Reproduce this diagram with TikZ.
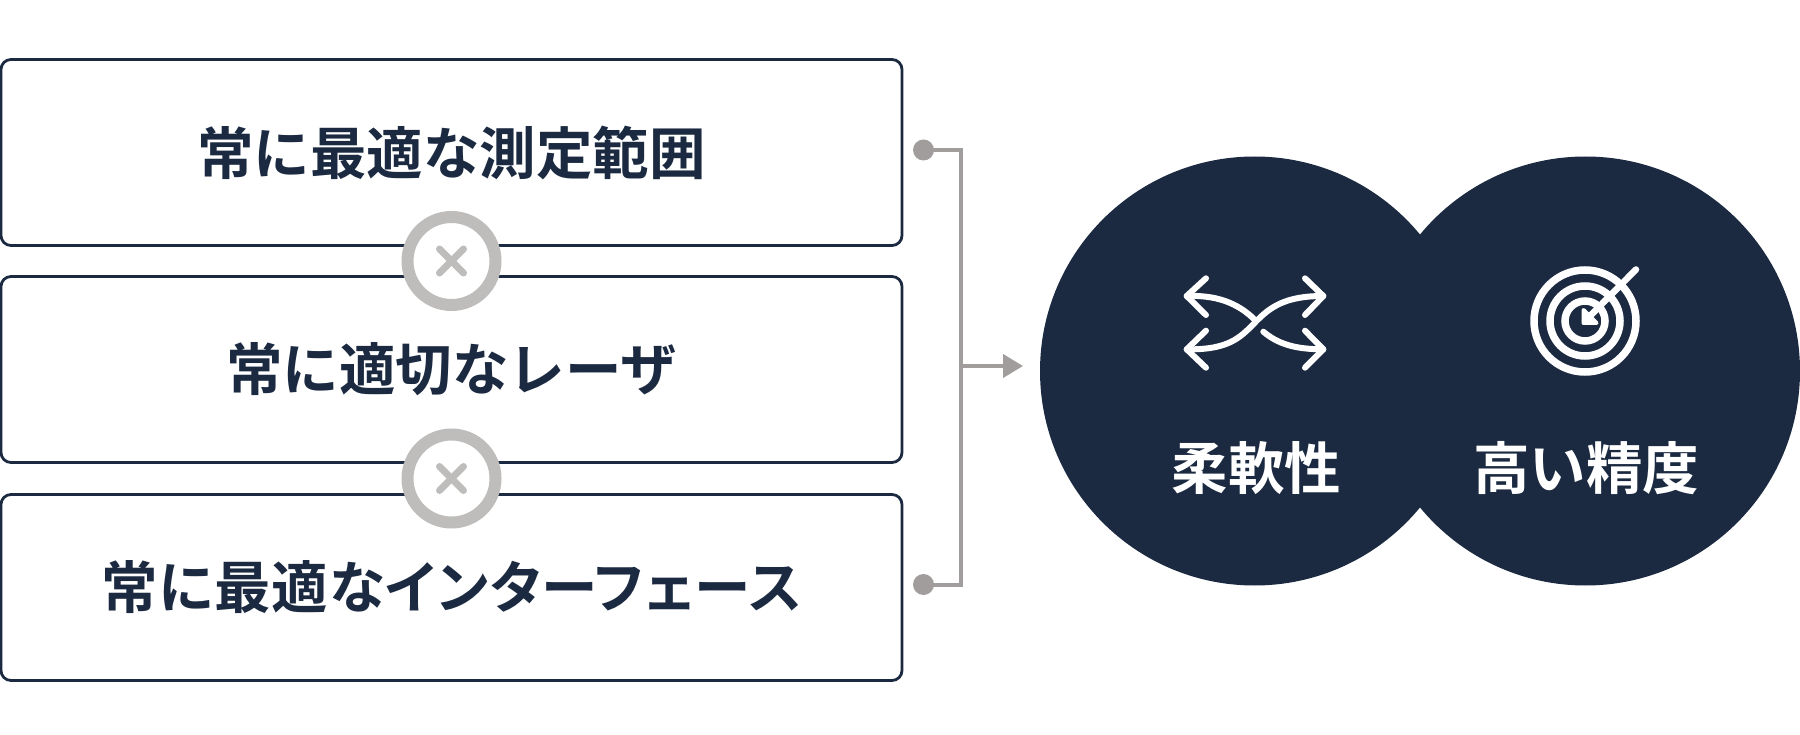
\documentclass[tikz,border=0pt]{standalone}
\usepackage{fontspec}
\usepackage{xcolor}
\usetikzlibrary{arrows.meta}
\newfontfamily\lblfont{Noto Sans CJK JP Bold}
\newfontfamily\tightfont{Noto Sans CJK JP Bold}[RawFeature=+palt,LetterSpace=1.7]
\definecolor{navy}{HTML}{1B2A41}
\definecolor{ringgrey}{HTML}{BEBDBB}
\definecolor{linegrey}{HTML}{A09D9C}
\tikzset{
	optionbox/.style={draw=navy,line width=2.8pt,rounded corners=10pt,fill=white,minimum width=901pt,minimum height=186pt,inner sep=0pt,text=navy,font=\fontsize{56.5}{56}\selectfont\lblfont},
	ring/.style={circle,draw=ringgrey,line width=12pt,fill=white,minimum size=88pt,inner sep=0pt},
	cross/.style={ringgrey,line width=7pt,line cap=round},
	dot/.style={circle,fill=linegrey,minimum size=21pt,inner sep=0pt},
	link/.style={linegrey,line width=4pt},
	bigdisc/.style={circle,fill=navy,minimum size=429pt,inner sep=0pt},
	disctext/.style={text=white,font=\fontsize{56.5}{56}\selectfont\lblfont,inner sep=0pt},
	icon/.style={white,line width=6pt,line cap=round,line join=round}
}
\begin{document}
\begin{tikzpicture}[x=1pt,y=-1pt]
		\useasboundingbox (0,0) rectangle (1800,735);
		
		\node[optionbox] (box-1) at (451.5,152.5) {常に最適な測定範囲};
		\node[optionbox] (box-2) at (451.5,369.5) {常に適切なレーザ};
		\node[optionbox] (box-3) at (451.5,587.5) {\tightfont 常に最適なインターフェース};
		
		\foreach \y/\n in {261/1,478.5/2}{
			\node[ring] (ring-\n) at (451.5,\y) {};
			\draw[cross] ([shift={(-12,-12)}]ring-\n.center) -- ([shift={(12,12)}]ring-\n.center);
			\draw[cross] ([shift={(-12,12)}]ring-\n.center) -- ([shift={(12,-12)}]ring-\n.center);
		}
		
		\node[dot] (dot-top) at (923.5,150) {};
		\node[dot] (dot-bottom) at (923.5,584.5) {};
		\coordinate (join) at (960.5,366);
		\coordinate (arrow-tip) at (1023,366);
		\draw[link] (dot-top.center) -| (join) |- (dot-bottom.center);
		\draw[link,-{Triangle[length=20pt,width=23pt]}] (join) -- (arrow-tip);
		
		\node[bigdisc] (disc-left) at (1254.5,371) {};
		\node[bigdisc] (disc-right) at (1585.5,371) {};
		\node[disctext] (label-left) at (1256.5,468) {柔軟性};
		\node[disctext] (label-right) at (1586,468) {高い精度};
		
		% crossing arrows
		\coordinate (cross-mid) at (1255,322.5);
		\draw[icon] (1206,278.3) -- (1186.7,296) -- (1206,315);
		\draw[icon] (1206,330.7) -- (1186.7,349.3) -- (1206,367.7);
		\draw[icon] (1305,278.3) -- (1323.3,296) -- (1305,315);
		\draw[icon] (1305,330.7) -- (1323.3,349.3) -- (1305,367.7);
		\draw[icon] (1186.7,296) .. controls (1215,295) and (1237,302) .. (1255,320);
		\draw[icon] (1186.7,349.3) .. controls (1228,350) and (1240,338) .. (cross-mid) .. controls (1270,307) and (1285,296) .. (1323.3,296);
		\draw[icon] (1263.3,331.7) .. controls (1278,344) and (1295,349.3) .. (1323.3,349.3);
		
		% target
		\coordinate (target) at (1585,321);
		\foreach \r in {51,35,20}{
			\draw[white,line width=7.5pt] (target) circle (\r);
		}
		\draw[icon,line width=6.5pt] (1636,269.5) -- (target);
		\draw[icon,fill=white,line width=4pt] (1583.5,310) -- (1583.5,323) -- (1596.5,323) -- cycle;
\end{tikzpicture}
\end{document}
